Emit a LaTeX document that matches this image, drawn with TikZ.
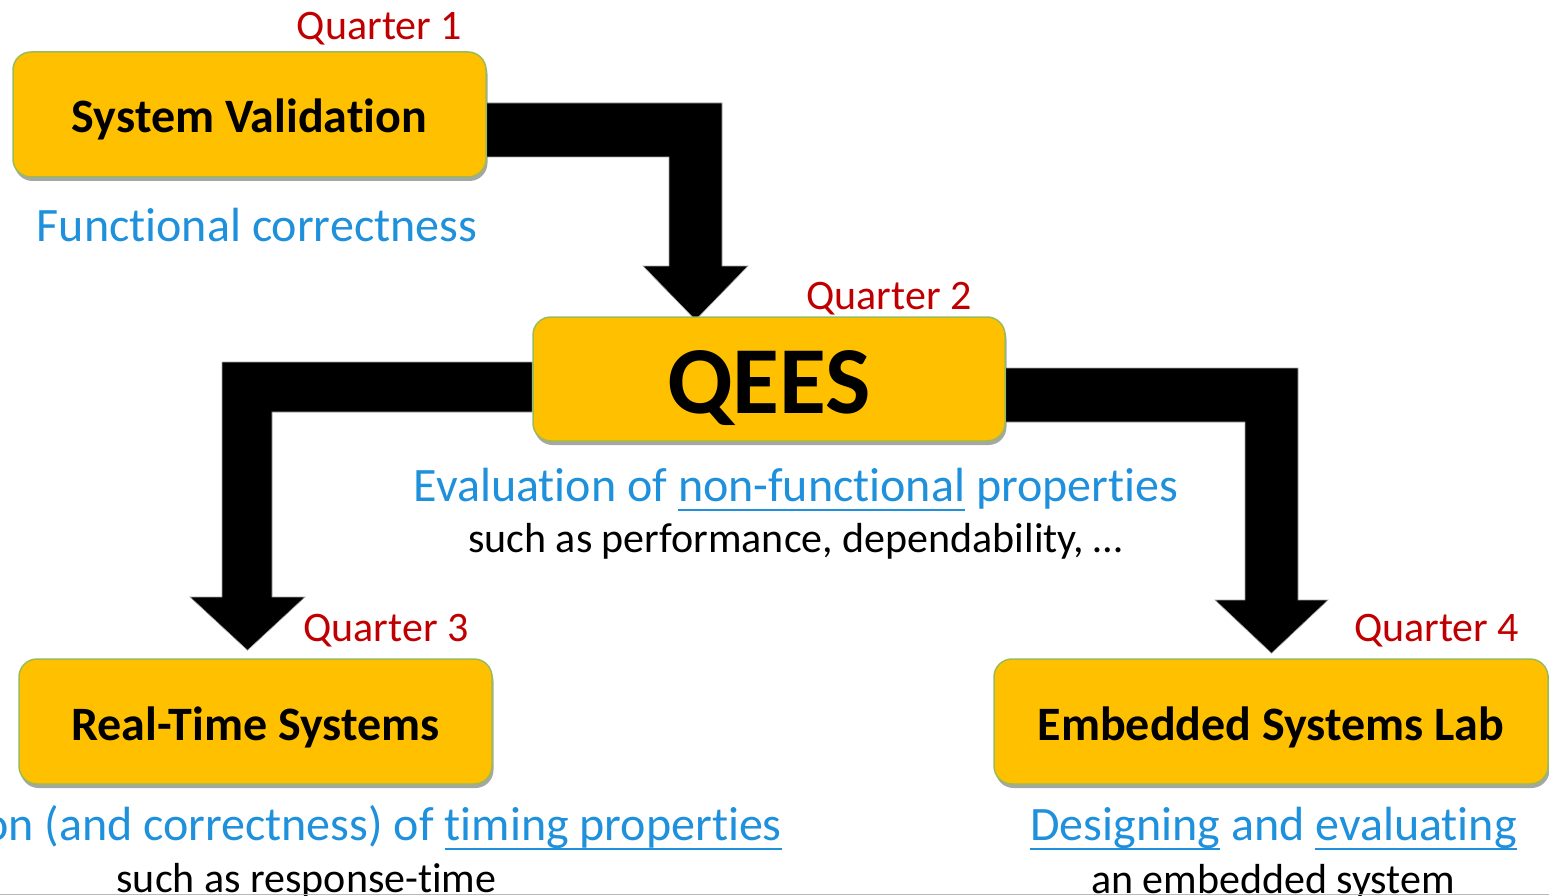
\documentclass[tikz,border=0pt]{standalone}
\usepackage{fontspec}
\setmainfont{Carlito}[Ligatures={NoCommon,NoContextual}]
\usetikzlibrary{shadows,calc}
\definecolor{boxfill}{HTML}{FFC000}
\definecolor{boxline}{HTML}{9BBB59}
\definecolor{qred}{HTML}{C00000}
\definecolor{topicblue}{HTML}{1E90DC}
% underline drawn as a rule below the baseline
\newsavebox{\ulinebox}
\newcommand{\topicline}[1]{\sbox{\ulinebox}{#1}\rlap{\rule[-10pt]{\wd\ulinebox}{2.4pt}}\usebox{\ulinebox}}
\pgfdeclarelayer{bg}
\pgfsetlayers{bg,main}

\begin{document}
\begin{tikzpicture}[x=1pt,y=-1pt,
  course/.style={draw=boxline, line width=1.5pt, fill=boxfill,
    rounded corners=18pt, inner sep=0pt, minimum height=125pt,
    drop shadow={shadow xshift=1.5pt, shadow yshift=-4pt, opacity=0.35, fill=black},
    font=\bfseries\fontsize{48}{56}\selectfont, text height=37pt, text depth=0pt},
  quarter/.style={text=qred, inner sep=0pt, anchor=base,
    font=\fontsize{42}{50}\selectfont},
  topic/.style={text=topicblue, inner sep=0pt, anchor=base,
    font=\fontsize{48}{58}\selectfont},
  detail/.style={text=black, inner sep=0pt, anchor=base,
    font=\fontsize{42}{50}\selectfont},
  flow/.style={fill=black, draw=gray!70, line width=0.6pt}]

\useasboundingbox (0,0) rectangle (1549,896);

% course boxes
\node[course, minimum width=473pt] (sv) at (249.5,114.5) {System Validation};
\node[course, minimum width=472pt, minimum height=124pt,
      font=\bfseries\fontsize{96}{110}\selectfont, text height=68pt] (qees) at (769,379) {QEES};
\node[course, minimum width=473pt] (rts) at (255.5,721.5) {Real-Time Systems};
\node[course, minimum width=554pt] (esl) at (1271,721.5) {Embedded Systems Lab};

% bent block arrows between the courses
\begin{pgfonlayer}{bg}
\filldraw[flow] (sv.east |- 0,103) -- (722,103) -- (722,266) -- (748,266)
  -- (695.5,320) -- (643,266) -- (669,266) -- (669,157)
  -- (sv.east |- 0,157) -- cycle;
\filldraw[flow] (qees.west |- 0,362) -- (222,362) -- (222,597) -- (190,597)
  -- ($(247.5,0 |- rts.north)+(0,-8)$) -- (305,597) -- (272,597) -- (272,412)
  -- (qees.west |- 0,412) -- cycle;
\filldraw[flow] (qees.east |- 0,368) -- (1298,368) -- (1298,600) -- (1328,600)
  -- ($(1271.5,0 |- esl.north)+(0,-5)$) -- (1215,600) -- (1245,600) -- (1245,422)
  -- (qees.east |- 0,422) -- cycle;
\end{pgfonlayer}

% quarter labels
\node[quarter] (q1) at (379.5,40) {Quarter 1};
\node[quarter] (q2) at (889,309) {Quarter 2};
\node[quarter] (q3) at (386,641) {Quarter 3};
\node[quarter] (q4) at (1436.5,641) {Quarter 4};

% course descriptions
\node[topic] (svtopic) at (257,241) {Functional correctness};
\node[topic] (qeestopic) at (796,501) {Evaluation of \topicline{non-functional} properties};
\node[detail] (qeesdetail) at (795.5,552) {such as performance, dependability, …};
\node[topic, anchor=base east] (rtstopic) at (782,840) {on (and correctness) of \topicline{timing properties}};
\node[detail] (rtsdetail) at (306.5,892) {such as response-time};
\node[topic] (esltopic) at (1273.5,840) {\topicline{Designing} and \topicline{evaluating}};
\node[detail] (esldetail) at (1273,893) {an embedded system};

% frame edge along the bottom
\draw[gray!55, line width=1.2pt] (0,894.6) -- (1549,894.6);
\end{tikzpicture}
\end{document}
